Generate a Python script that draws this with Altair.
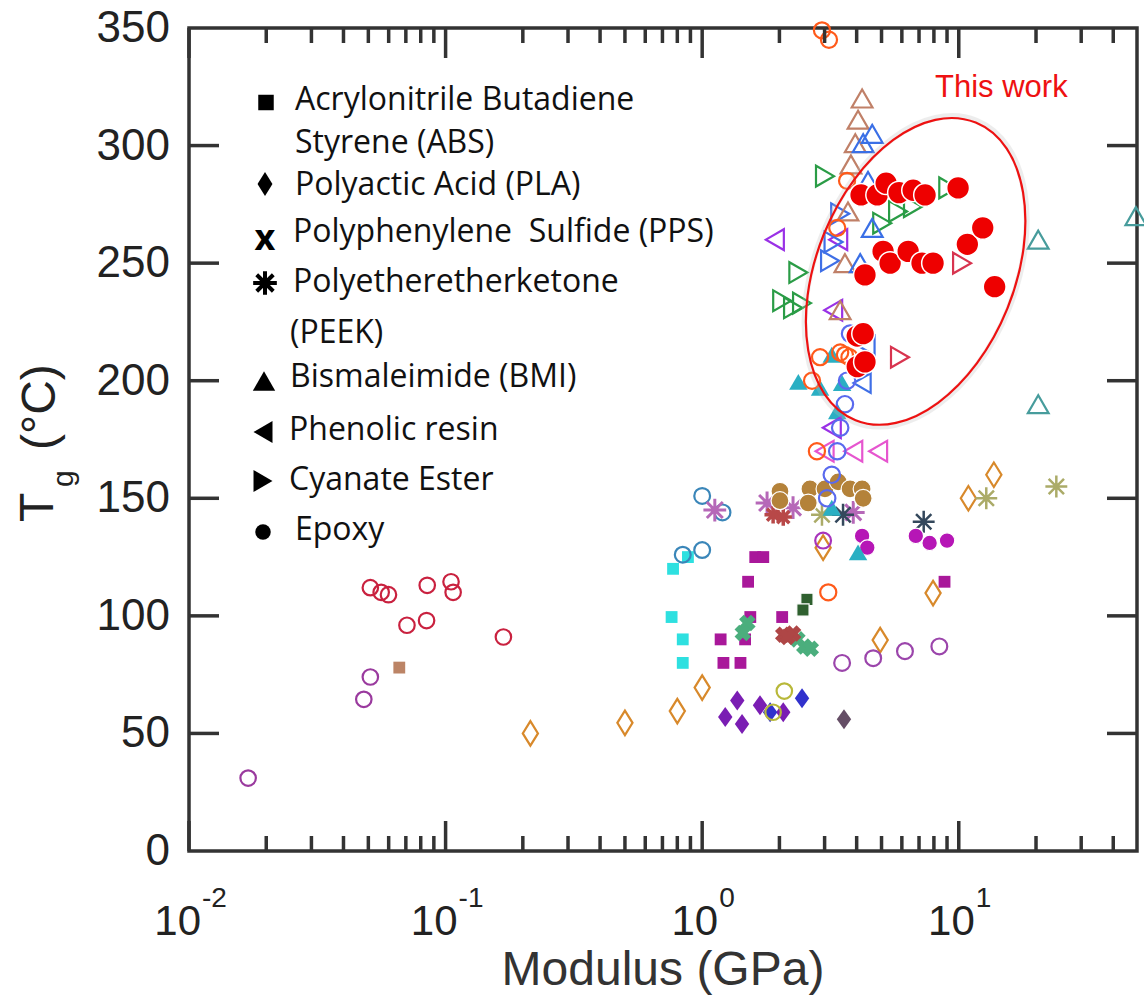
import altair as alt
import pandas as pd

# ---------------- data : Modulus (GPa) / Tg (°C) ----------------
# This work (red filled circles)
this_work_mod = [4.16, 4.81, 5.21, 5.85, 6.64, 7.39, 9.94, 4.31, 5.07, 5.40, 6.35, 7.19, 7.94, 10.8, 12.4, 13.8, 4.02, 4.24, 4.02, 4.31]
this_work_tg = [279, 279, 284, 280, 281, 279, 282, 245, 255, 250, 255, 250, 250, 258, 265, 240, 219, 220, 206, 208]

# Bismaleimide (triangle up)
bmi_brown_mod = [4.2, 4.05, 3.95, 3.8, 3.7, 3.6, 3.45]
bmi_brown_tg = [320, 311, 301, 292, 272, 250, 230]
bmi_blue_mod = [4.6, 4.24, 4.43, 4.6, 4.13]
bmi_blue_tg = [305, 301, 285, 265, 250]
bmi_teal_mod = [3.2, 2.37, 2.88, 3.51, 3.36, 3.2, 4.05]
bmi_teal_tg = [211, 199.5, 197, 199, 187, 146, 127]
bmi_teal2_mod = [20.4, 20.4, 49]
bmi_teal2_tg = [260, 190, 270]

# Phenolic resin (triangle left)
phen_purple_mod = [1.92, 3.24, 3.39, 3.2]
phen_purple_tg = [260, 230, 260, 180]
phen_pink_mod = [3.0, 3.88, 4.85]
phen_pink_tg = [170, 170, 170]
phen_blue_mod = [4.35, 4.2]
phen_blue_tg = [215, 199]

# Cyanate ester (triangle right)
cy_green_mod = [3.01, 5.03, 5.8, 6.63, 9.1, 2.37, 2.05, 2.26, 2.45]
cy_green_tg = [287, 267, 272, 274, 282, 246, 234, 231, 233]
cy_blue_mod = [3.45, 3.25, 3.15]
cy_blue_tg = [271, 259, 251]
cy_crimson_mod = [10.3, 5.9]
cy_crimson_tg = [250, 210]

# Epoxy (circles)
ep_orange_mod = [2.93, 3.12, 3.67, 3.36, 2.88, 3.45, 3.6, 3.75, 2.68, 2.8, 3.1]
ep_orange_tg = [349, 345, 285, 265, 210, 212, 211, 210, 200, 170, 110]
ep_blue_mod = [3.77, 3.67, 3.6, 3.45, 3.36, 3.2, 3.07]
ep_blue_tg = [220, 200, 190, 180, 170, 160, 150]
ep_gold_mod = [2.01, 2.01, 2.63, 2.59, 3.01, 3.39, 3.77, 4.2, 4.24]
ep_gold_tg = [153, 149, 154, 148, 154, 157, 154, 154, 150]
ep_steel_mod = [1.0, 1.2, 0.84, 1.0]
ep_steel_tg = [151, 144, 126, 128]
ep_magenta_mod = [4.2, 4.4, 6.8, 7.7, 9.0]
ep_magenta_tg = [134, 129, 134, 131, 132]
ep_violet_mod = [2.96]
ep_violet_tg = [132]
ep_plum_mod = [3.51, 4.64, 6.17, 8.4]
ep_plum_tg = [80, 82, 85, 87]
ep_olive_mod = [2.09, 1.89]
ep_olive_tg = [68, 59]
ep_crimson_mod = [0.0509, 0.0561, 0.0599, 0.0848, 0.105, 0.107, 0.0707, 0.0843, 0.168]
ep_crimson_tg = [112, 110, 109, 113, 114.5, 110, 96, 98, 91]
ep_purple_mod = [0.0509, 0.048, 0.017]
ep_purple_tg = [74, 64.5, 31]

# PEEK (asterisks)
peek_pink_mod = [1.12, 1.79, 2.26, 3.88]
peek_pink_tg = [145, 148, 146, 144]
peek_red_mod = [1.89, 2.07]
peek_red_tg = [143, 142]
peek_olive_mod = [2.93, 24.0, 12.8]
peek_olive_tg = [143, 155, 150]
peek_navy_mod = [3.54, 7.3]
peek_navy_tg = [143, 140]

# ABS (squares)
abs_cyan_mod = [0.88, 0.77, 0.76, 0.84, 0.84]
abs_cyan_tg = [125, 120, 99.5, 90, 80]
abs_magenta_mod = [1.61, 1.73, 1.51, 1.54, 2.05, 1.18, 1.47, 1.21, 1.41, 8.8]
abs_magenta_tg = [125, 125, 114.5, 99.5, 99.5, 90, 90, 80, 80, 114.5]
abs_green_mod = [2.56, 2.47]
abs_green_tg = [107, 102.5]
abs_brown_mod = [0.066]
abs_brown_tg = [78]

# PPS (crosses)
pps_green_mod = [1.5, 1.44, 2.35, 2.5, 2.65]
pps_green_tg = [97, 92.7, 90, 87, 86]
pps_red_mod = [2.07, 2.26, 2.15]
pps_red_tg = [92, 92.5, 91]

# PLA (diamonds)
pla_orange_mod = [0.214, 0.5, 0.8, 1.0, 2.96, 4.94, 7.94, 10.9, 13.7]
pla_orange_tg = [50, 54.5, 59.5, 69.5, 129, 89.7, 109.7, 150, 160]
pla_purple_mod = [1.37, 1.23, 1.43, 1.68, 2.07]
pla_purple_tg = [64, 57, 54, 62, 59]
pla_blue_mod = [2.45, 1.84]
pla_blue_tg = [65, 59]
pla_gray_mod = [3.57]
pla_gray_tg = [56]

# ellipse around "This work"
ellipse_mod = [6.79]
ellipse_tg = [246.5]

x_major = [0.01, 0.1, 1, 10]
x_minor = [0.02, 0.03, 0.04, 0.05, 0.06, 0.07, 0.08, 0.09,
           0.2, 0.3, 0.4, 0.5, 0.6, 0.7, 0.8, 0.9,
           2, 3, 4, 5, 6, 7, 8, 9, 20, 30, 40]
x_exp = ["-2", "-1", "0", "1"]
y_ticks = [0, 50, 100, 150, 200, 250, 300, 350]

legend_items = ["Acrylonitrile Butadiene", "Styrene (ABS)", "Polyactic Acid (PLA)",
                "Polyphenylene\u00a0 Sulfide (PPS)", "Polyetheretherketone", "(PEEK)",
                "Bismaleimide (BMI)", "Phenolic resin", "Cyanate Ester", "Epoxy"]

# ---------------- layout ----------------
W, H = 948, 823
XS = alt.Scale(type="log", domain=[0.01, 49.5], nice=False)
YS = alt.Scale(domain=[0, 350], nice=False, zero=False)

TALL_DIAMOND = "M0,-1L0.62,0L0,1L-0.62,0Z"
DIAMOND2 = "M0,-1L0.72,0L0,1L-0.72,0Z"
ASTER = "M0,-1L0,1M-1,0L1,0M-0.7,-0.7L0.7,0.7M-0.7,0.7L0.7,-0.7"
rx, k = 0.617, 0.5523
ELLIPSE = (f"M0,-1C{k*rx:.4f},-1,{rx},-{k},{rx},0C{rx},{k},{k*rx:.4f},1,0,1"
           f"C-{k*rx:.4f},1,-{rx},{k},-{rx},0C-{rx},-{k},-{k*rx:.4f},-1,0,-1Z")

one = pd.DataFrame({"a": [0]})


def pts(mods, tgs, shape, color, filled, size, sw=2.0, stroke=None, angle=0, opacity=1):
    df = pd.DataFrame({"mod": mods, "tg": tgs})
    kw = dict(shape=shape, size=size, opacity=opacity, angle=angle)
    if filled:
        kw.update(filled=True, fill=color, stroke=stroke if stroke else color,
                  strokeWidth=sw if stroke else 0)
    else:
        kw.update(filled=False, stroke=color, strokeWidth=sw, fillOpacity=0)
    return alt.Chart(df).mark_point(**kw).encode(
        x=alt.X("mod:Q", scale=XS, axis=None),
        y=alt.Y("tg:Q", scale=YS, axis=None),
    )


def txt(s, x, y, size, font="Open Sans", color="#111", align="left",
        baseline="alphabetic", angle=0, weight="normal"):
    return alt.Chart(one).mark_text(
        text=s, fontSize=size, font=font, color=color, align=align,
        baseline=baseline, angle=angle, fontWeight=weight
    ).encode(x=alt.value(x), y=alt.value(y))


def sym(shape, x, y, size, filled=True, sw=0, angle=0):
    if filled:
        m = alt.Chart(one).mark_point(shape=shape, size=size, filled=True, fill="black",
                                       stroke="black", strokeWidth=sw, opacity=1, angle=angle)
    else:
        m = alt.Chart(one).mark_point(shape=shape, size=size, filled=False, stroke="black",
                                       strokeWidth=sw, opacity=1, angle=angle)
    return m.encode(x=alt.value(x), y=alt.value(y))


# inward ticks
TK = dict(color="#333", strokeWidth=3.5)
xmaj = pd.DataFrame({"v": x_major})
xmin = pd.DataFrame({"v": x_minor})
ymaj = pd.DataFrame({"v": y_ticks[1:-1]})
ticks = [
    alt.Chart(xmaj).mark_rule(**TK).encode(x=alt.X("v:Q", scale=XS, axis=None), y=alt.value(H), y2=alt.value(H - 30)),
    alt.Chart(xmaj).mark_rule(**TK).encode(x=alt.X("v:Q", scale=XS, axis=None), y=alt.value(0), y2=alt.value(30)),
    alt.Chart(xmin).mark_rule(**TK).encode(x=alt.X("v:Q", scale=XS, axis=None), y=alt.value(H), y2=alt.value(H - 15)),
    alt.Chart(xmin).mark_rule(**TK).encode(x=alt.X("v:Q", scale=XS, axis=None), y=alt.value(0), y2=alt.value(15)),
    alt.Chart(ymaj).mark_rule(**TK).encode(y=alt.Y("v:Q", scale=YS, axis=None), x=alt.value(0), x2=alt.value(30)),
    alt.Chart(ymaj).mark_rule(**TK).encode(y=alt.Y("v:Q", scale=YS, axis=None), x=alt.value(W - 30), x2=alt.value(W)),
]

# y tick labels
yl = pd.DataFrame({"v": y_ticks, "t": [str(v) for v in y_ticks]})
ylabels = alt.Chart(yl).mark_text(fontSize=44, font="Liberation Sans", color="#222",
                                  align="right", baseline="middle", dy=1).encode(
    y=alt.Y("v:Q", scale=YS, axis=None), x=alt.value(-19), text="t:N")

# x tick labels 10^n
xl = pd.DataFrame({"v": x_major, "e": x_exp, "b": ["10"] * 4})
neg = xl[xl.e.str.startswith("-")]
pos = xl[~xl.e.str.startswith("-")]
xlabels = []
for d, dx in ((neg, 12), (pos, 16)):
    xlabels.append(alt.Chart(d).mark_text(fontSize=42, font="Liberation Sans", color="#222",
                                          align="right", baseline="alphabetic", dx=dx).encode(
        x=alt.X("v:Q", scale=XS, axis=None), y=alt.value(H + 84), text="b:N"))
    xlabels.append(alt.Chart(d).mark_text(fontSize=28, font="Liberation Sans", color="#222",
                                          align="left", baseline="alphabetic", dx=dx + 1).encode(
        x=alt.X("v:Q", scale=XS, axis=None), y=alt.value(H + 56), text="e:N"))

# data layers
layers = [
    pts(pla_orange_mod, pla_orange_tg, TALL_DIAMOND, "#D8892B", False, 600, 2.2),
    pts(ep_crimson_mod, ep_crimson_tg, "circle", "#C9213F", False, 240, 2.2),
    pts(ep_purple_mod, ep_purple_tg, "circle", "#9A3A9E", False, 240, 2.2),
    pts(ep_plum_mod, ep_plum_tg, "circle", "#9B45AB", False, 250, 2.2),
    pts(abs_brown_mod, abs_brown_tg, "square", "#BC8466", True, 140),
    pts(abs_cyan_mod, abs_cyan_tg, "square", "#2EE0E0", True, 140),
    pts(abs_magenta_mod, abs_magenta_tg, "square", "#A9189A", True, 140),
    pts(abs_green_mod, abs_green_tg, "square", "#2F602F", True, 150, 1.2, "white"),
    pts(pps_green_mod, pps_green_tg, "cross", "#4BAE7D", True, 280, angle=45),
    pts(pps_red_mod, pps_red_tg, "cross", "#AE4646", True, 280, angle=45),
    pts(pla_purple_mod, pla_purple_tg, DIAMOND2, "#7A1DB3", True, 400),
    pts(pla_blue_mod, pla_blue_tg, DIAMOND2, "#3131CC", True, 400),
    pts(pla_gray_mod, pla_gray_tg, DIAMOND2, "#654E66", True, 400),
    pts(ep_olive_mod, ep_olive_tg, "circle", "#B8B83A", False, 240, 2.2),
    pts(ep_steel_mod, ep_steel_tg, "circle", "#3A86B9", False, 250, 2.2),
    pts(peek_pink_mod, peek_pink_tg, ASTER, "#B668B8", False, 520, 3),
    pts(peek_red_mod, peek_red_tg, ASTER, "#B84848", False, 300, 3.5),
    pts(peek_olive_mod, peek_olive_tg, ASTER, "#ABAB68", False, 480, 2.5),
    pts(peek_navy_mod, peek_navy_tg, ASTER, "#34485C", False, 480, 2.5),
    pts(ep_gold_mod, ep_gold_tg, "circle", "#B4823A", True, 320, 1.2, "white"),
    pts(ep_magenta_mod, ep_magenta_tg, "circle", "#B616B6", True, 240, 1.2, "white"),
    pts(ep_violet_mod, ep_violet_tg, "circle", "#A834BB", False, 250, 2.2),
    pts(bmi_teal_mod, bmi_teal_tg, "triangle-up", "#2AAFC3", True, 340),
    pts(bmi_teal2_mod, bmi_teal2_tg, "triangle-up", "#479C9C", False, 430, 2.2),
    pts(phen_pink_mod, phen_pink_tg, "triangle-left", "#E655CF", False, 430, 2.2),
    pts(phen_purple_mod, phen_purple_tg, "triangle-left", "#9A31E6", False, 430, 2.2),
    pts(phen_blue_mod, phen_blue_tg, "triangle-left", "#3F6FE6", False, 390, 2.2),
    pts(cy_green_mod, cy_green_tg, "triangle-right", "#2A9C46", False, 430, 2.2),
    pts(cy_blue_mod, cy_blue_tg, "triangle-right", "#3F6FE6", False, 430, 2.2),
    pts(cy_crimson_mod, cy_crimson_tg, "triangle-right", "#D8344F", False, 430, 2.2),
    pts(bmi_brown_mod, bmi_brown_tg, "triangle-up", "#C08068", False, 430, 2.2),
    pts(bmi_blue_mod, bmi_blue_tg, "triangle-up", "#3A6FE6", False, 430, 2.2),
    pts(ep_blue_mod, ep_blue_tg, "circle", "#5A6AEE", False, 270, 2.2),
    pts(ep_orange_mod, ep_orange_tg, "circle", "#FF5A1A", False, 260, 2.2),
    pts(ellipse_mod, ellipse_tg, ELLIPSE, "#BBBBBB", False, 105500, 6, angle=22, opacity=0.25),
    pts(ellipse_mod, ellipse_tg, ELLIPSE, "#EE1111", False, 103000, 2.2, angle=22),
    pts(this_work_mod, this_work_tg, "circle", "#EE0000", True, 520, 1.5, "white"),
]

# legend
LF = 32
legend = [
    sym("square", 77, 74.5, 240),
    txt(legend_items[0], 106, 82, LF),
    txt(legend_items[1], 106, 125, LF),
    sym(TALL_DIAMOND, 76, 156, 580),
    txt(legend_items[2], 106, 167, LF),
    txt("x", 76, 222, 36, align="center", weight="bold", color="black"),
    txt(legend_items[3], 104, 214, LF),
    sym(ASTER, 76, 255, 560, filled=False, sw=4),
    txt(legend_items[4], 104, 264, LF),
    txt(legend_items[5], 101, 315, LF),
    sym("triangle-up", 75, 353, 500),
    txt(legend_items[6], 101, 359, LF),
    sym("triangle-left", 74, 404, 480),
    txt(legend_items[7], 100, 412, LF),
    sym("triangle-right", 74, 453, 480),
    txt(legend_items[8], 100, 462, LF),
    sym("circle", 74, 504, 240),
    txt(legend_items[9], 106, 512, LF),
]

annot = [
    txt("This work", 746, 69, 31, font="Liberation Sans", color="#EE1111"),
    txt("Modulus (GPa)", W / 2, H + 134, 48, font="Liberation Sans", color="#333", align="center"),
    txt("T", -136, 494, 48, font="Liberation Sans", color="#222", angle=270),
    txt("g", -116, 459, 30, font="Liberation Sans", color="#222", angle=270),
    txt("(°C)", -134, 422, 48, font="Liberation Sans", color="#222", angle=270),
]

chart = alt.layer(*layers, *ticks, ylabels, *xlabels, *legend, *annot).properties(
    width=W, height=H,
    background="white",
    autosize=alt.AutoSizeParams(type="none"),
    padding={"left": 189, "top": 28, "right": 7, "bottom": 145},
).configure_view(stroke="#333", strokeWidth=3.5)

chart.save("out.html", embed_options={"renderer": "svg", "actions": False})
